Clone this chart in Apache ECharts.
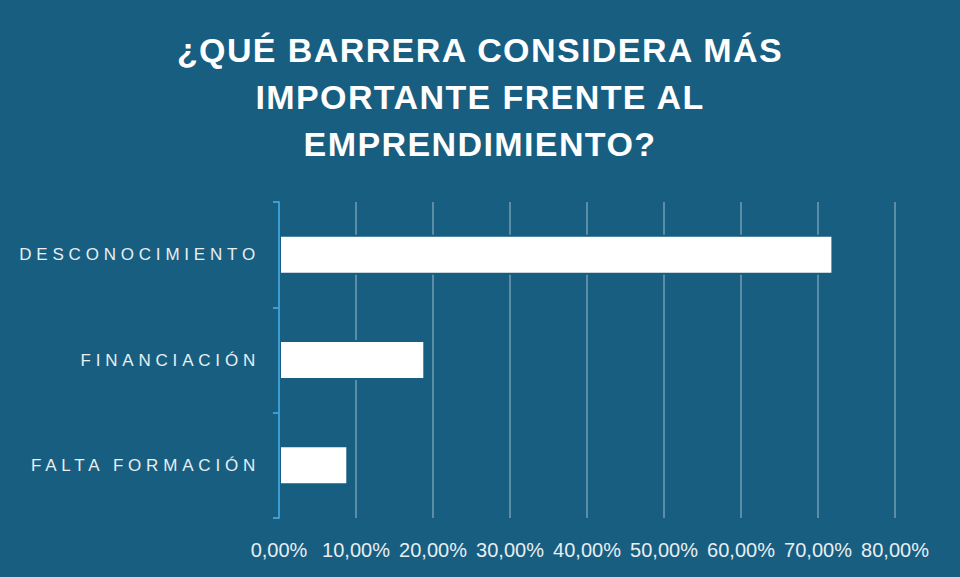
<!DOCTYPE html>
<html>
<head>
<meta charset="utf-8">
<script src="https://cdn.jsdelivr.net/npm/echarts@6/dist/echarts.min.js"></script>
<style>
  html, body { margin: 0; padding: 0; background: #175e81; }
  #chart { width: 960px; height: 577px; }
  /* letter spacing for title and category labels (svg renderer) */
  #chart text[style*="34px"] { letter-spacing: 1.4px; }
  #chart text[style*="17px"] { letter-spacing: 4.8px; }
</style>
</head>
<body>
<div id="chart"></div>
<script>
// datos
const titulo = '¿QUÉ BARRERA CONSIDERA MÁS\nIMPORTANTE FRENTE AL\nEMPRENDIMIENTO?';
const barreras = ['DESCONOCIMIENTO', 'FINANCIACIÓN', 'FALTA FORMACIÓN'];
const porcentajes = [72, 19, 9];

const fondo = '#175e81';

let myChart = echarts.init(document.getElementById('chart'), null, { renderer: 'svg' });

let option = {
  backgroundColor: fondo,
  animation: false,
  title: {
    text: titulo,
    left: 'center',
    top: 26,
    padding: 0,
    textStyle: {
      color: '#ffffff',
      fontSize: 34,
      fontWeight: 'bold',
      fontFamily: 'Liberation Sans',
      lineHeight: 47
    }
  },
  grid: { left: 279, right: 65, top: 202, bottom: 59, containLabel: false },
  xAxis: {
    type: 'value',
    min: 0,
    max: 80,
    interval: 10,
    axisLine: { show: false },
    axisTick: { show: false },
    splitLine: { show: true, lineStyle: { color: '#5b8da7', width: 2 } },
    axisLabel: {
      color: '#e8eef2',
      fontSize: 20,
      fontFamily: 'Liberation Sans',
      margin: 22,
      hideOverlap: false,
      formatter: v => v.toFixed(2).replace('.', ',') + '%'
    }
  },
  yAxis: {
    type: 'category',
    data: barreras,
    inverse: true,
    z: 5,
    axisLine: { show: true, lineStyle: { color: '#3b9dd3', width: 2 } },
    axisTick: { show: true, length: 6, lineStyle: { color: '#3b9dd3', width: 2 } },
    splitLine: { show: false },
    axisLabel: {
      color: '#e8eef2',
      fontSize: 17,
      fontFamily: 'Liberation Sans',
      margin: 19
    }
  },
  series: [{
    type: 'bar',
    data: porcentajes,
    barWidth: 40,
    itemStyle: { color: '#ffffff', borderColor: fondo, borderWidth: 2 },
    silent: true
  }]
};

myChart.setOption(option);
</script>
</body>
</html>
